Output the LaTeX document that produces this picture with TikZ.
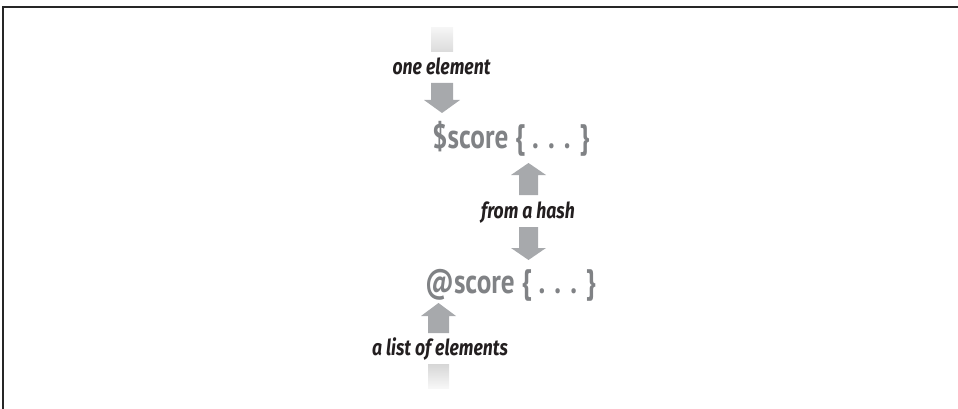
\documentclass[tikz,border=0pt]{standalone}
\usepackage{fontspec}
\setmainfont{PT Sans}
\newfontfamily\condfont[FakeStretch=0.8]{PT Sans}
\newfontfamily\labelfont[FakeStretch=0.8]{Fira Sans}
\definecolor{arrowgray}{HTML}{A7A9AC}
\definecolor{codegray}{HTML}{808285}
\definecolor{labelink}{HTML}{231F20}
\begin{document}
\begin{tikzpicture}[x=1pt,y=-1pt]
\tikzset{
  labeltext/.style={font=\labelfont\bfseries\itshape\fontsize{22}{22}\selectfont, text=labelink, inner sep=0pt, anchor=base},
  codetext/.style={font=\condfont\bfseries\fontsize{34}{34}\selectfont, text=codegray, inner sep=0pt, anchor=base west},
  blockarrow/.style={fill=arrowgray, draw=none},
  frameline/.style={draw=black!85, line width=1.5pt}
}
\useasboundingbox (0,0) rectangle (958,409);
\draw[frameline] (3,409) -- (3,7) -- (958,7);
% faded stubs
\shade[top color=white!96!black, bottom color=white!86!black] (431,28) rectangle (453,52);
\shade[top color=white!84!black, bottom color=white!97!black] (428,364) rectangle (449,388);
% text nodes
\node[labeltext] (one) at (441.5,75) {one element};
\node[codetext] (scalar) at (432,148) {\$score \{ . . . \}};
\node[labeltext] (hash) at (528,218) {from a hash};
\node[codetext] (array) at (425,293) {@score \{ . . . \}};
\node[labeltext] (list) at (440,355) {a list of elements};
% block arrows
\fill[blockarrow] (431,83) -- (453,83) -- (453,100) -- (460,100) -- (442,113) -- (424,100) -- (431,100) -- cycle;
\fill[blockarrow] (519,195) -- (538,195) -- (538,175) -- (546,175) -- (528.5,163) -- (511,175) -- (519,175) -- cycle;
\fill[blockarrow] (519,227) -- (538,227) -- (538,248) -- (546,248) -- (528.5,260) -- (511,248) -- (519,248) -- cycle;
\fill[blockarrow] (428,333) -- (449,333) -- (449,316) -- (456,316) -- (438.5,303) -- (421,316) -- (428,316) -- cycle;
\end{tikzpicture}
\end{document}
